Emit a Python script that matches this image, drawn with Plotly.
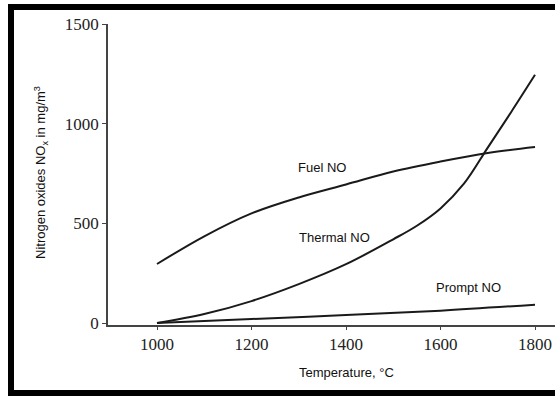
import plotly.graph_objects as go

# Data
fuel_t = [1000, 1100, 1200, 1300, 1400, 1500, 1600, 1700, 1800]
fuel_no = [296, 435, 550, 630, 695, 760, 810, 853, 883]

thermal_t = [1000, 1100, 1200, 1300, 1400, 1500, 1550, 1600, 1650, 1700, 1750, 1800]
thermal_no = [0, 45, 110, 195, 295, 420, 488, 575, 700, 880, 1060, 1245]

prompt_t = [1000, 1200, 1400, 1600, 1800]
prompt_no = [0, 20, 40, 62, 92]

x_ticks = [1000, 1200, 1400, 1600, 1800]
y_ticks = [0, 500, 1000, 1500]

line_style = dict(color="#1a1a1a", width=2, shape="spline", smoothing=1.0)

fig = go.Figure()
fig.add_trace(go.Scatter(x=fuel_t, y=fuel_no, mode="lines", line=line_style, name="Fuel NO"))
fig.add_trace(go.Scatter(x=thermal_t, y=thermal_no, mode="lines", line=line_style, name="Thermal NO"))
fig.add_trace(go.Scatter(x=prompt_t, y=prompt_no, mode="lines", line=line_style, name="Prompt NO"))

label_font = dict(family="Liberation Sans, Arial, sans-serif", size=13, color="#111")
tick_font = dict(family="Liberation Serif, Times New Roman, serif", size=17, color="#222")

W, H = 447, 301  # plot area in px (x 108..555, y 24..325)
def px(x):
    return (x - 108) / W
def py(y):
    return (325 - y) / H

annotations = [
    dict(x=1350, y=780, text="Fuel NO", showarrow=False, font=label_font, xref="x", yref="y"),
    dict(x=1375, y=428, text="Thermal NO", showarrow=False, font=label_font, xref="x", yref="y"),
    dict(x=1660, y=178, text="Prompt NO", showarrow=False, font=label_font, xref="x", yref="y"),
    dict(x=px(346), y=py(382), xref="paper", yref="paper",
         text="Temperature, °C", showarrow=False, font=label_font),
    dict(x=px(30), y=py(173), xref="paper", yref="paper",
         text="Nitrogen oxides NO<sub>x</sub> in mg/m<sup>3</sup>", textangle=-90,
         showarrow=False, font=label_font),
]

shapes = [
    dict(type="rect", xref="paper", yref="paper", x0=px(8), x1=px(14), y0=py(4), y1=py(396),
         fillcolor="black", line=dict(width=0), layer="above"),
    dict(type="rect", xref="paper", yref="paper", x0=px(8), x1=px(556), y0=py(4), y1=py(10),
         fillcolor="black", line=dict(width=0), layer="above"),
    dict(type="rect", xref="paper", yref="paper", x0=px(8), x1=px(556), y0=py(390), y1=py(396),
         fillcolor="black", line=dict(width=0), layer="above"),
]

fig.update_layout(
    width=555, height=396,
    margin=dict(l=108, r=0, t=24, b=71),
    paper_bgcolor="white", plot_bgcolor="white",
    showlegend=False,
    annotations=annotations,
    shapes=shapes,
    xaxis=dict(range=[896.3, 1842.3], tickvals=x_ticks, ticktext=[str(v) for v in x_ticks],
               showgrid=False, zeroline=False, showline=True, linecolor="#444", linewidth=1.5,
               ticks="outside", ticklen=3, tickcolor="#444", tickfont=tick_font),
    yaxis=dict(range=[-10, 1500], tickvals=y_ticks, ticktext=[str(v) for v in y_ticks],
               showgrid=False, zeroline=False, showline=True, linecolor="#444", linewidth=1.5,
               ticks="outside", ticklen=4, tickcolor="#444", tickfont=tick_font),
)

fig.write_html("out.html", config={"displayModeBar": False},
               post_script="document.body.style.margin='0';")
